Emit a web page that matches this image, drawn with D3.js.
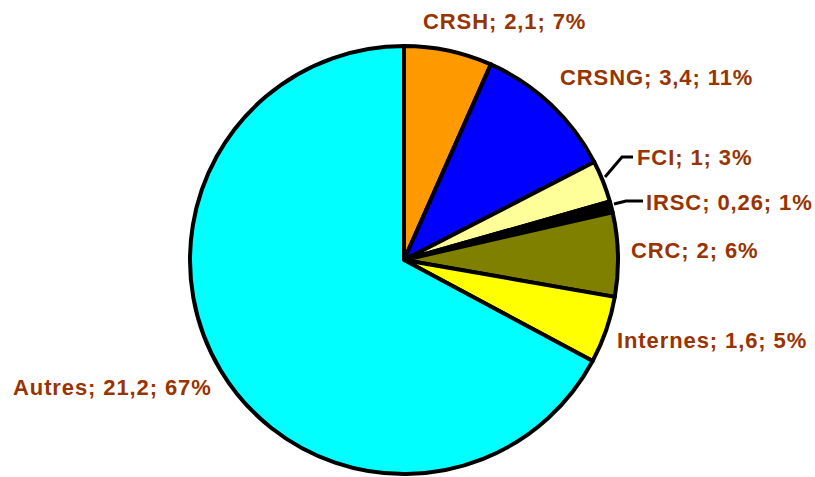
<!DOCTYPE html>
<html><head><meta charset="utf-8">
<script src="https://cdn.jsdelivr.net/npm/d3@7"></script>
<style>body{margin:0;background:#fff}svg{display:block}</style>
</head><body>
<svg id="chart" width="815" height="477"></svg>
<script>
const categories = ["CRSH", "CRSNG", "FCI", "IRSC", "CRC", "Internes", "Autres"];
const values = [2.1, 3.4, 1, 0.26, 2, 1.6, 21.2];
const valueLabels = ["2,1", "3,4", "1", "0,26", "2", "1,6", "21,2"];
const percentLabels = ["7%", "11%", "3%", "1%", "6%", "5%", "67%"];
const colors = ["#FF9900", "#0000FF", "#FFFF99", "#000000", "#808000", "#FFFF00", "#00FFFF"];

// label layout (x, baseline y) — layout only
const labelPos = [[423, 29], [560, 85], [637, 165], [646, 210], [631, 258], [617, 348], [13, 395]];
const leaders = { 2: [[605, 177], [622, 157], [633, 157]], 3: [[614, 204], [626, 201], [643, 201]] };

const svg = d3.select("#chart");
const cx = 404, cy = 260, r = 214;
const data = categories.map((c, i) => ({ cat: c, value: values[i], i }));
const pie = d3.pie().sort(null).value(d => d.value);
const arc = d3.arc().innerRadius(0).outerRadius(r);
const g = svg.append("g").attr("transform", `translate(${cx},${cy})`);
g.selectAll("path").data(pie(data)).join("path")
  .attr("d", arc)
  .attr("fill", d => colors[d.data.i])
  .attr("stroke", "#000").attr("stroke-width", 4).attr("stroke-linejoin", "round");

const line = d3.line();
Object.entries(leaders).forEach(([k, pts]) => {
  svg.append("path").attr("d", line(pts)).attr("fill", "none")
    .attr("stroke", "#000").attr("stroke-width", 3);
});

svg.selectAll("text.lbl").data(data).join("text")
  .attr("class", "lbl")
  .attr("x", d => labelPos[d.i][0]).attr("y", d => labelPos[d.i][1])
  .attr("font-family", "Liberation Sans, Arial, sans-serif")
  .attr("font-weight", "bold").attr("font-size", 22)
  .attr("letter-spacing", 0.9)
  .attr("fill", "#993300")
  .text(d => `${d.cat}; ${valueLabels[d.i]}; ${percentLabels[d.i]}`);
</script>
</body></html>
